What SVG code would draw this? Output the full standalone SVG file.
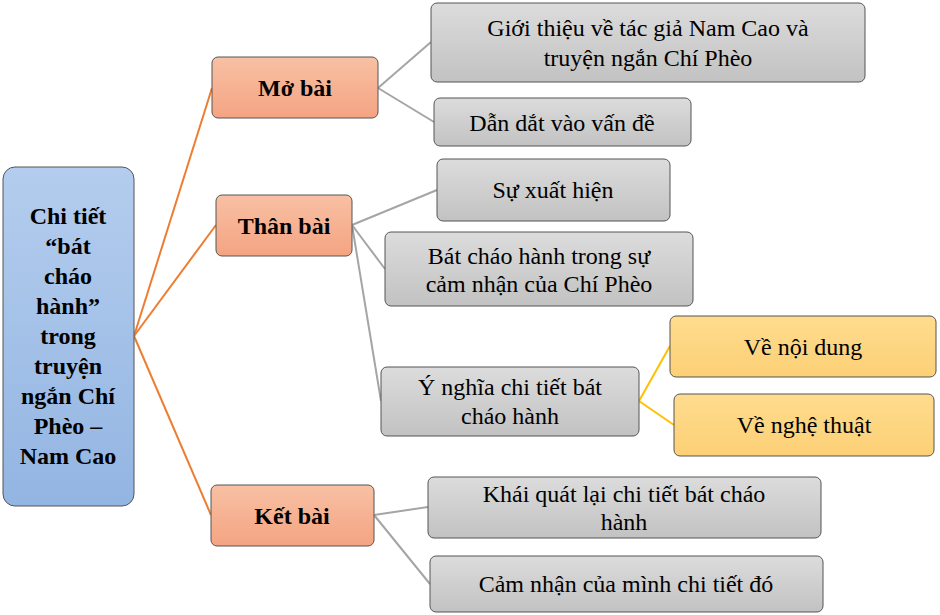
<svg xmlns="http://www.w3.org/2000/svg" width="940" height="615" viewBox="0 0 940 615">
<defs>
<linearGradient id="gb" x1="0" y1="0" x2="0" y2="1"><stop offset="0" stop-color="#b4cdee"/><stop offset="1" stop-color="#93b5e2"/></linearGradient>
<linearGradient id="go" x1="0" y1="0" x2="0" y2="1"><stop offset="0" stop-color="#f8c0a4"/><stop offset="1" stop-color="#f4a482"/></linearGradient>
<linearGradient id="gg" x1="0" y1="0" x2="0" y2="1"><stop offset="0" stop-color="#dcdcdc"/><stop offset="1" stop-color="#c2c2c2"/></linearGradient>
<linearGradient id="gy" x1="0" y1="0" x2="0" y2="1"><stop offset="0" stop-color="#ffdc8e"/><stop offset="1" stop-color="#fcd076"/></linearGradient>
</defs>
<style>
rect{stroke:#555;stroke-width:1}
.b{fill:url(#gb)}.o{fill:url(#go)}.g{fill:url(#gg)}.y{fill:url(#gy)}
text{font-family:"Liberation Serif","Times New Roman",serif;font-size:24px;text-anchor:middle;fill:#000}
.bd{font-weight:bold}
.co line{stroke-width:2}
.or{stroke:#ed7d31}.gr{stroke:#a5a5a5}.ye{stroke:#ffc000}
</style>
<g class="co">
<line class="or" x1="134" y1="336" x2="212" y2="88"/>
<line class="or" x1="134" y1="336" x2="216" y2="225"/>
<line class="or" x1="134" y1="336" x2="211" y2="515"/>
<line class="gr" x1="378" y1="88" x2="431" y2="42"/>
<line class="gr" x1="378" y1="88" x2="434" y2="122"/>
<line class="gr" x1="352" y1="225" x2="437" y2="190"/>
<line class="gr" x1="352" y1="225" x2="385" y2="269"/>
<line class="gr" x1="352" y1="225" x2="381" y2="401"/>
<line class="ye" x1="639" y1="401" x2="670" y2="346"/>
<line class="ye" x1="639" y1="401" x2="674" y2="425"/>
<line class="gr" x1="374" y1="515" x2="428" y2="507"/>
<line class="gr" x1="374" y1="515" x2="430" y2="584"/>
</g>
<g id="root"><rect class="b" x="3" y="167" width="131" height="339" rx="12"/>
<text class="bd" x="68"><tspan x="68" y="224">Chi tiết</tspan><tspan x="68" y="254">“bát</tspan><tspan x="68" y="284">cháo</tspan><tspan x="68" y="314">hành”</tspan><tspan x="68" y="344">trong</tspan><tspan x="68" y="374">truyện</tspan><tspan x="68" y="404">ngắn Chí</tspan><tspan x="68" y="434">Phèo –</tspan><tspan x="68" y="464">Nam Cao</tspan></text></g>
<g id="mobai"><rect class="o" x="212" y="57" width="166" height="61" rx="6"/><text class="bd" x="295" y="96">Mở bài</text></g>
<g id="thanbai"><rect class="o" x="216" y="195" width="136" height="61" rx="6"/><text class="bd" x="284" y="234">Thân bài</text></g>
<g id="ketbai"><rect class="o" x="211" y="485" width="163" height="61" rx="6"/><text class="bd" x="292" y="524">Kết bài</text></g>
<g id="g1"><rect class="g" x="431" y="3" width="434" height="79" rx="6"/><text x="648" y="36">Giới thiệu về tác giả Nam Cao và</text><text x="648" y="66">truyện ngắn Chí Phèo</text></g>
<g id="g2"><rect class="g" x="434" y="98" width="257" height="48" rx="6"/><text x="562" y="131">Dẫn dắt vào vấn đề</text></g>
<g id="g3"><rect class="g" x="437" y="159" width="233" height="62" rx="6"/><text x="553" y="198">Sự xuất hiện</text></g>
<g id="g4"><rect class="g" x="385" y="232" width="308" height="74" rx="6"/><text x="539" y="264">Bát cháo hành trong sự</text><text x="539" y="292">cảm nhận của Chí Phèo</text></g>
<g id="g5"><rect class="g" x="381" y="367" width="258" height="69" rx="6"/><text x="510" y="395">Ý nghĩa chi tiết bát</text><text x="510" y="424">cháo hành</text></g>
<g id="y1"><rect class="y" x="670" y="316" width="266" height="61" rx="6"/><text x="803" y="355">Về nội dung</text></g>
<g id="y2"><rect class="y" x="674" y="394" width="260" height="62" rx="6"/><text x="804" y="433">Về nghệ thuật</text></g>
<g id="g6"><rect class="g" x="428" y="477" width="393" height="61" rx="6"/><text x="624" y="502">Khái quát lại chi tiết bát cháo</text><text x="624" y="530">hành</text></g>
<g id="g7"><rect class="g" x="430" y="556" width="393" height="56" rx="6"/><text x="626" y="592">Cảm nhận của mình chi tiết đó</text></g>
</svg>
